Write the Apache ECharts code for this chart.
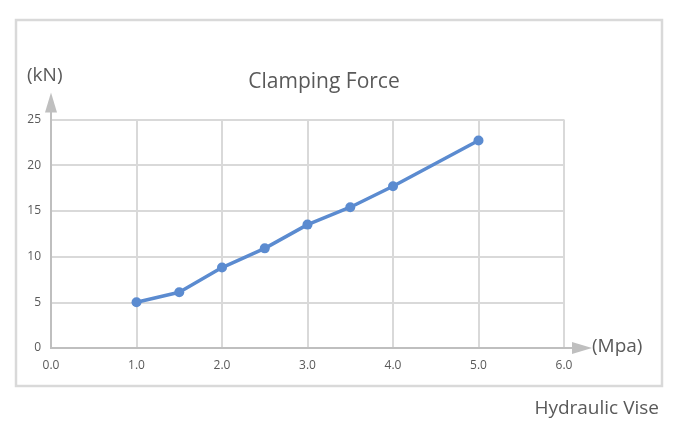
<!DOCTYPE html>
<html><head><meta charset="utf-8">
<script src="https://cdn.jsdelivr.net/npm/echarts@6/dist/echarts.min.js"></script>
<style>html,body{margin:0;padding:0;background:#fff}#c{width:675px;height:432px}</style>
</head><body><div id="c"></div>
<script>
var pressure = [1.0, 1.5, 2.0, 2.5, 3.0, 3.5, 4.0, 5.0];
var force = [5.0, 6.1, 8.8, 10.9, 13.5, 15.4, 17.7, 22.7];
var xTicks = [0, 1, 2, 3, 4, 5, 6];
var yTicks = [0, 5, 10, 15, 20, 25];
var titleText = 'Clamping Force';
var yUnit = '(kN)';
var xUnit = '(Mpa)';
var footText = 'Hydraulic Vise';

var FONT = 'Open Sans';
var chart = echarts.init(document.getElementById('c'), null, {renderer: 'canvas'});
var points = pressure.map(function (p, i) { return [p, force[i]]; });
chart.setOption({
  animation: false,
  backgroundColor: '#fff',
  title: {
    text: titleText, left: 319, top: 67, textAlign: 'center',
    textStyle: {fontFamily: FONT, fontSize: 21, fontWeight: 'normal', color: '#595959'}
  },
  grid: {left: 51, right: 111, top: 119.5, bottom: 84, containLabel: false},
  xAxis: {
    type: 'value', min: xTicks[0], max: xTicks[xTicks.length - 1], interval: 1,
    axisLine: {show: false},
    axisTick: {show: false},
    axisLabel: {fontFamily: FONT, fontSize: 12, color: '#595959', margin: 12,
      formatter: function (v) { return v.toFixed(1); }},
    splitLine: {show: true, lineStyle: {color: '#d9d9d9', width: 2}}
  },
  yAxis: {
    type: 'value', min: yTicks[0], max: yTicks[yTicks.length - 1], interval: 5,
    axisLine: {show: false},
    axisTick: {show: false},
    axisLabel: {fontFamily: FONT, fontSize: 12, color: '#595959', margin: 10},
    splitLine: {show: true, lineStyle: {color: '#d9d9d9', width: 2}}
  },
  series: [{
    type: 'line', data: points,
    symbol: 'circle', symbolSize: 10,
    lineStyle: {color: '#5b8bd0', width: 3.5},
    itemStyle: {color: '#5b8bd0'},
    z: 5
  }]
});

function drawExtras() {
  var o = chart.convertToPixel({gridIndex: 0}, [0, 0]);
  var yTop = chart.convertToPixel({gridIndex: 0}, [0, yTicks[yTicks.length - 1]]);
  var xEnd = chart.convertToPixel({gridIndex: 0}, [xTicks[xTicks.length - 1], 0]);
  var axisColor = '#bfbfbf';
  var yTip = yTop[1] - 27;
  var xTip = xEnd[0] + 28;
  chart.setOption({
    graphic: [
      {type: 'rect', shape: {x: 16, y: 20, width: 646, height: 366},
        style: {fill: 'none', stroke: '#d9d9d9', lineWidth: 2.5}, z: 0, silent: true},
      {type: 'line', shape: {x1: o[0], y1: o[1] + 1, x2: o[0], y2: yTip + 12},
        style: {stroke: axisColor, lineWidth: 2}, z: 3},
      {type: 'polygon', shape: {points: [[o[0], yTip], [o[0] - 6, yTip + 20], [o[0] + 6, yTip + 20]]},
        style: {fill: axisColor}, z: 3},
      {type: 'line', shape: {x1: o[0] - 1, y1: o[1], x2: xTip - 12, y2: o[1]},
        style: {stroke: axisColor, lineWidth: 2}, z: 3},
      {type: 'polygon', shape: {points: [[xTip, o[1]], [xTip - 20, o[1] - 6], [xTip - 20, o[1] + 6]]},
        style: {fill: axisColor}, z: 3},
      {type: 'text', x: 27, y: 76, style: {text: yUnit, fontFamily: FONT, fontSize: 19,
        fill: '#595959', verticalAlign: 'middle'}, z: 4},
      {type: 'text', x: xTip, y: o[1] - 1, style: {text: xUnit, fontFamily: FONT, fontSize: 19,
        fill: '#595959', verticalAlign: 'middle'}, z: 4},
      {type: 'text', x: 659, y: 409, style: {text: footText, fontFamily: FONT, fontSize: 19,
        fill: '#595959', align: 'right', verticalAlign: 'middle'}, z: 4}
    ]
  });
}
drawExtras();
</script>
</body></html>
